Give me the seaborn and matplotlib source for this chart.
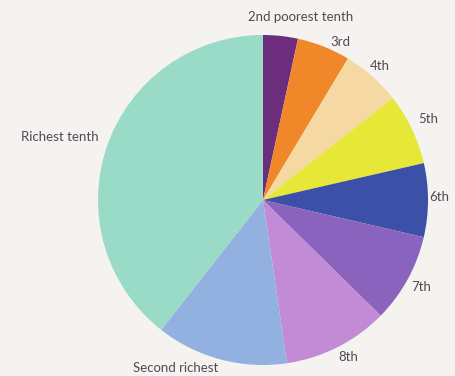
import matplotlib
matplotlib.use("Agg")
import matplotlib.pyplot as plt
import seaborn as sns

# Datos (porcentaje de cada décimo)
groups = ["2nd poorest tenth", "3rd", "4th", "5th", "6th", "7th", "8th",
          "Second richest", "Richest tenth"]
shares = [3.4, 5.2, 5.8, 7.0, 7.2, 8.75, 10.3, 12.9, 39.4]
colors = ["#6b2d7c", "#f0882a", "#f6d8a2", "#e6e736", "#3b50a6",
          "#8a63bf", "#c38bd6", "#93b1e0", "#9adbc7"]

# Posiciones de las etiquetas (en unidades del radio)
label_pos = [(0.23, 1.11), (0.47, 0.96), (0.71, 0.81), (1.00, 0.49),
             (1.07, 0.02), (0.96, -0.53), (0.52, -0.95), (-0.53, -1.02),
             (-1.23, 0.38)]

sns.set_style("white")
plt.rcParams['font.family'] = ['Lato', 'DejaVu Sans']

bg = "#f4f3f0"
fig = plt.figure(figsize=(4.55, 3.76), dpi=100, facecolor=bg)
ax = fig.add_axes([0, 0, 1, 1])
ax.set_facecolor(bg)

ax.pie(shares, colors=sns.color_palette(colors), startangle=90,
       counterclock=False, radius=1.0, center=(0, 0),
       wedgeprops=dict(linewidth=0))

for g, (x, y) in zip(groups, label_pos):
    ax.text(x, y, g, ha="center", va="center", fontsize=9.5, color="#4f4a56")

ax.set_xlim(-263 / 165, 192 / 165)
ax.set_ylim(-176 / 165, 200 / 165)
ax.set_aspect("auto")
ax.axis("off")

fig.savefig("out.png", dpi=100, facecolor=bg)
